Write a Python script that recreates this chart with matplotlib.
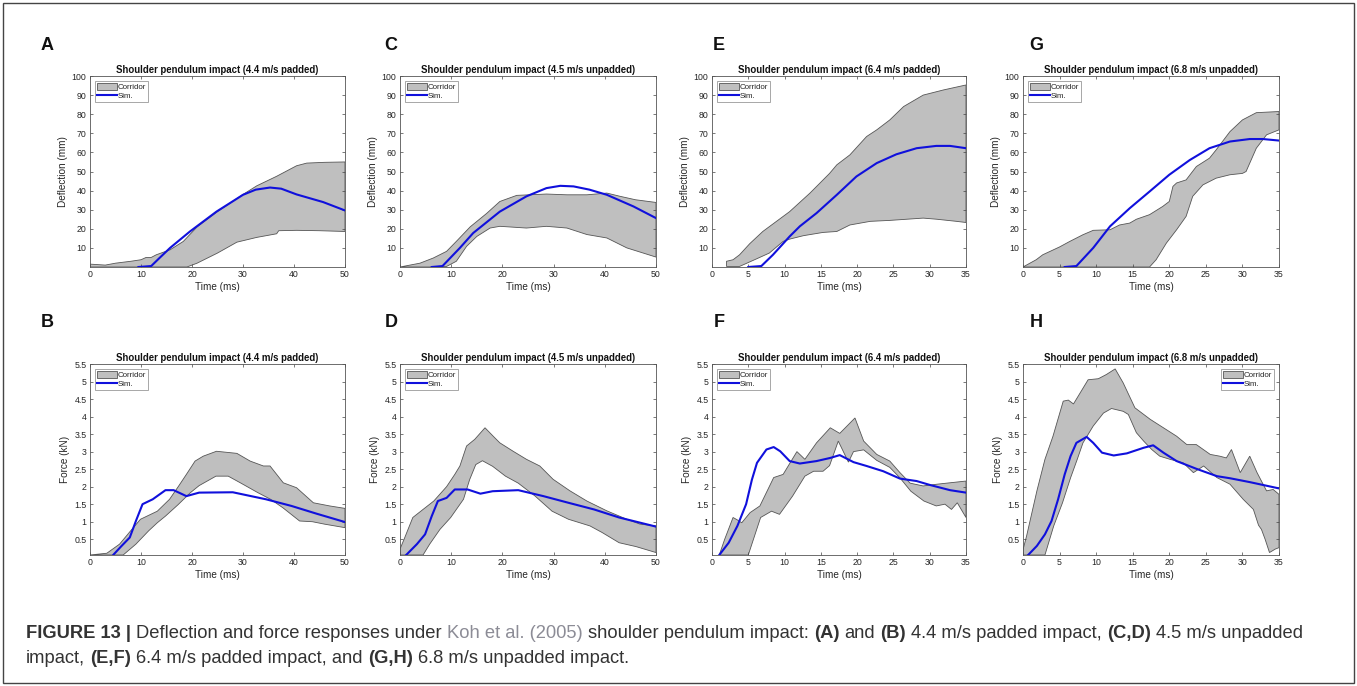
import numpy as np
import matplotlib
matplotlib.use("Agg")
import matplotlib.pyplot as plt
from matplotlib.patches import Rectangle
from matplotlib.ticker import FuncFormatter

plt.rcParams['font.family'] = ['Liberation Sans', 'DejaVu Sans']

# ── Data ──────────────────────────────────────────────────────────────────────
# A: deflection, 4.4 m/s padded
a_up_t = [0, 3, 5, 8, 10, 11, 12, 13, 15.7, 18.3, 21, 25, 30, 32.7, 36.6, 40.5, 42.5, 46, 50]
a_up = [1.5, 1, 2, 3, 3.8, 5, 5, 6.4, 9, 13.4, 21, 29, 38, 42.5, 47.5, 53, 54.4, 54.8, 55]
a_lo_t = [0, 19, 21, 25, 28.8, 32.7, 36.6, 37, 40.5, 45, 50]
a_lo = [0, 0, 2, 7.3, 13, 15.5, 17.4, 19, 19.2, 19, 18.6]
a_sim_t = [9.5, 12, 13.5, 15.7, 19.6, 24.8, 30, 32.5, 35.3, 37.5, 40.5, 45.7, 50]
a_sim = [0, 0.5, 4.4, 10, 18.6, 29, 37.8, 40.5, 41.6, 41, 38, 34, 29.6]

# C: deflection, 4.5 m/s unpadded
c_up_t = [0, 3.9, 6.5, 9.1, 11, 13.7, 16.9, 19.5, 22.8, 28.6, 32.6, 36.5, 40.4, 43, 46, 50]
c_up = [0, 2, 4.7, 8.2, 13.4, 21, 28, 34.3, 37.5, 38.2, 37.8, 37.8, 38.7, 37, 35.2, 33.8]
c_lo_t = [0, 6.5, 9.1, 11, 13, 15, 17.6, 19.5, 24.7, 28.6, 32.6, 36.5, 40.4, 44.3, 50]
c_lo = [0, 0, 0.3, 3, 10.8, 16, 20.4, 21.3, 20.4, 21.3, 20.4, 17, 15.2, 10, 5.2]
c_sim_t = [6.2, 8.3, 11.7, 14.3, 19.5, 24.7, 28.6, 31.3, 33.9, 37, 40.4, 45.6, 50]
c_sim = [0, 0.5, 10, 17.8, 29, 37, 41.3, 42.5, 42.2, 40.5, 37.8, 31.7, 25.6]

# E: deflection, 6.4 m/s padded
e_up_t = [2, 2.9, 3.8, 5.2, 7, 10.7, 13.5, 16.2, 17.2, 19, 21.3, 22.7, 24.5, 26.4, 29.1, 31.9, 35]
e_up = [3, 3.8, 6.4, 12.2, 18.6, 29, 38.7, 49, 53.5, 58.7, 68.3, 71.8, 77, 84, 90, 92.7, 95.3]
e_lo_t = [2, 3.8, 6.1, 7.9, 9.8, 10.7, 12.6, 15.3, 17.2, 19, 21.8, 24.5, 29.1, 31, 33.7, 35]
e_lo = [0.3, 0.3, 4.2, 7.3, 13.4, 14.6, 16.4, 18.1, 18.6, 22, 23.9, 24.4, 25.6, 25, 23.9, 23.3]
e_sim_t = [5, 6.8, 8.4, 10.7, 12.1, 14.4, 17.2, 19.9, 22.7, 25.4, 28.2, 30.9, 32.8, 35]
e_sim = [0, 0.5, 6.4, 16, 21.3, 28.2, 37.8, 47.4, 54.4, 59, 62.2, 63.4, 63.4, 62.2]

# G: deflection, 6.8 m/s unpadded
g_up_t = [0, 1.8, 2.7, 5, 6.4, 8.2, 9.6, 11.9, 13.2, 14.6, 15.5, 17.3, 19.1, 20, 20.5, 21,
          22.3, 23.7, 25.5, 26.4, 28.3, 30, 31.9, 35]
g_up = [0, 3.8, 6.4, 10.5, 13.4, 16.9, 19.2, 19.5, 22, 23, 25, 27.4, 31.7, 34.3, 42.2, 44,
        45.6, 52.6, 57, 61.3, 70.9, 77, 80.8, 81.4]
g_lo_t = [0, 17.3, 18.2, 19.6, 21, 22.3, 23.2, 24.6, 26.4, 28.3, 30, 30.5, 31.9, 33.3, 35]
g_lo = [0, 0, 3.8, 12.5, 19.5, 26.5, 37, 43, 46.5, 48.3, 49, 50, 62.2, 69.2, 71.8]
g_sim_t = [5.7, 7.3, 9.6, 11.9, 14.6, 17.3, 20, 22.8, 25.5, 28.3, 31, 32.8, 35]
g_sim = [0, 0.5, 10, 21.3, 30.8, 39.5, 48.3, 56, 62.2, 65.7, 67, 67, 66.2]

# B: force, 4.4 m/s padded
b_up_t = [0, 3.3, 5.8, 8.2, 9.9, 13.2, 15.6, 17.3, 18.9, 20.6, 22.2, 24.8, 28.8, 31.4, 34,
          35.3, 37.9, 40.5, 43.8, 47, 50]
b_up = [0.05, 0.1, 0.36, 0.78, 1.07, 1.3, 1.64, 2.0, 2.35, 2.73, 2.87, 3.01, 2.95, 2.73, 2.59,
        2.59, 2.11, 1.97, 1.54, 1.45, 1.38]
b_lo_t = [0, 6.5, 9, 11.5, 13.2, 14.8, 17.3, 19.7, 21.4, 24.7, 27.1, 29.6, 32.9, 35.4, 37.8,
          41.1, 43.6, 46, 50]
b_lo = [0.05, 0.05, 0.36, 0.74, 0.97, 1.16, 1.49, 1.83, 2.03, 2.3, 2.3, 2.1, 1.83, 1.64, 1.4,
        1.02, 1.0, 0.93, 0.83]
b_sim_t = [4.6, 6.2, 7.8, 9, 10.3, 12.3, 14.8, 16.4, 18.9, 21.4, 28, 34.5, 39.5, 44.4, 50]
b_sim = [0.06, 0.31, 0.55, 1.02, 1.5, 1.64, 1.9, 1.9, 1.73, 1.83, 1.84, 1.64, 1.45, 1.23, 0.99]

# D: force, 4.5 m/s unpadded
d_up_t = [0, 0.8, 2.5, 4.5, 6.6, 9.1, 10.7, 11.7, 13, 14.6, 16.6, 18.2, 19.5, 22.1, 24.7, 27.3,
          29.9, 33.2, 36.5, 40.4, 44.3, 46.9, 50]
d_up = [0.22, 0.5, 1.12, 1.35, 1.59, 2.0, 2.35, 2.59, 3.16, 3.35, 3.68, 3.44, 3.25, 3.01, 2.78,
        2.59, 2.21, 1.88, 1.59, 1.31, 1.07, 0.93, 0.88]
d_lo_t = [0, 4.5, 5.8, 7.8, 9.9, 12.4, 13.6, 14.8, 16.1, 18.1, 20.6, 23.1, 26.4, 29.7, 32.9,
          37.1, 39.5, 42.8, 46.1, 50]
d_lo = [0.05, 0.05, 0.36, 0.78, 1.12, 1.64, 2.2, 2.63, 2.74, 2.58, 2.3, 2.1, 1.73, 1.3, 1.07,
        0.88, 0.69, 0.4, 0.29, 0.12]
d_sim_t = [1.2, 3.3, 4.9, 6.2, 7.4, 9.1, 10.7, 13.2, 15.7, 18.1, 23.1, 28, 32.9, 37.9, 42.8, 50]
d_sim = [0.05, 0.36, 0.64, 1.16, 1.59, 1.68, 1.92, 1.92, 1.8, 1.87, 1.9, 1.73, 1.54, 1.35, 1.12, 0.86]

# F: force, 6.4 m/s padded
f_up_t = [1, 1.75, 2.9, 3.5, 4.1, 5.25, 6.6, 8.5, 9.8, 11.7, 12.8, 14.4, 16.3, 17.6, 19.7,
          20.9, 22.7, 24.5, 25.9, 27.3, 29.1, 31, 35]
f_up = [0.05, 0.5, 1.12, 1.05, 0.97, 1.26, 1.45, 2.26, 2.35, 3.0, 2.78, 3.25, 3.68, 3.52, 3.96,
        3.3, 2.92, 2.73, 2.4, 2.1, 2.02, 2.07, 2.16]
f_lo_t = [1, 5, 6.7, 8.2, 9.3, 11.1, 12.8, 14, 15.3, 16.2, 17.4, 18.8, 19.5, 20.9, 22.7, 24.5,
          25.9, 27.4, 29.2, 30.9, 32.1, 33, 33.8, 35]
f_lo = [0.05, 0.05, 1.12, 1.3, 1.21, 1.73, 2.3, 2.44, 2.44, 2.6, 3.3, 2.7, 3.0, 3.05, 2.75, 2.55,
        2.25, 1.87, 1.59, 1.45, 1.5, 1.35, 1.54, 1.12]
f_sim_t = [1, 2.3, 3.5, 4.7, 5.5, 6.2, 7.5, 8.5, 9.4, 10.7, 12.1, 14.4, 16.3, 17.6, 19.5, 21.3,
           23.6, 25.9, 28.2, 30, 32.8, 35]
f_sim = [0.05, 0.4, 0.88, 1.5, 2.2, 2.68, 3.06, 3.13, 3.01, 2.73, 2.66, 2.73, 2.82, 2.9, 2.7,
         2.59, 2.44, 2.23, 2.16, 2.05, 1.9, 1.83]

# H: force, 6.8 m/s unpadded
h_up_t = [0, 0.5, 1.9, 3, 4.1, 5.5, 6.2, 6.9, 7.8, 8.9, 10.3, 11.4, 12.6, 13.7, 15.3, 17.4,
          19.2, 21, 22.4, 23.7, 25.6, 26.9, 27.8, 28.5, 29.7, 31, 32, 33.3, 34.2, 35]
h_up = [0.2, 0.6, 1.88, 2.78, 3.44, 4.44, 4.47, 4.36, 4.67, 5.05, 5.08, 5.2, 5.36, 4.96, 4.25,
        3.92, 3.68, 3.44, 3.2, 3.2, 2.92, 2.87, 2.82, 3.06, 2.4, 2.87, 2.4, 1.88, 1.92, 1.78]
h_lo_t = [0, 3, 4.2, 5.4, 6.5, 7.4, 8.2, 9.6, 11, 12.1, 13.7, 14.4, 15.5, 16.5, 17.6, 18.7,
          20.1, 21.9, 23.3, 24.7, 26.5, 28.3, 30.1, 31.5, 32.2, 32.6, 33.1, 33.7, 34.5, 35]
h_lo = [0.05, 0.05, 0.88, 1.54, 2.25, 2.77, 3.25, 3.73, 4.1, 4.23, 4.15, 4.06, 3.54, 3.3, 3.06,
        2.87, 2.78, 2.68, 2.4, 2.59, 2.26, 2.07, 1.64, 1.35, 0.9, 0.78, 0.5, 0.12, 0.22, 0.26]
h_sim_t = [0.7, 1.9, 3, 3.9, 4.8, 5.7, 6.5, 7.3, 8.7, 9.6, 10.8, 12.4, 14.2, 16.5, 17.8, 19.2,
           21, 23.7, 26.5, 28.3, 31, 35]
h_sim = [0.05, 0.31, 0.64, 1.02, 1.64, 2.35, 2.87, 3.25, 3.42, 3.25, 2.97, 2.89, 2.95, 3.11,
         3.18, 2.97, 2.73, 2.51, 2.3, 2.24, 2.13, 1.95]

titles = ["Shoulder pendulum impact (4.4 m/s padded)",
          "Shoulder pendulum impact (4.5 m/s unpadded)",
          "Shoulder pendulum impact (6.4 m/s padded)",
          "Shoulder pendulum impact (6.8 m/s unpadded)"]
top_letters = ["A", "C", "E", "G"]
bot_letters = ["B", "D", "F", "H"]
x_max = [50, 50, 35, 35]
x_step = [10, 10, 5, 5]

defl = [(a_up_t, a_up, a_lo_t, a_lo, a_sim_t, a_sim),
        (c_up_t, c_up, c_lo_t, c_lo, c_sim_t, c_sim),
        (e_up_t, e_up, e_lo_t, e_lo, e_sim_t, e_sim),
        (g_up_t, g_up, g_lo_t, g_lo, g_sim_t, g_sim)]
force = [(b_up_t, b_up, b_lo_t, b_lo, b_sim_t, b_sim),
         (d_up_t, d_up, d_lo_t, d_lo, d_sim_t, d_sim),
         (f_up_t, f_up, f_lo_t, f_lo, f_sim_t, f_sim),
         (h_up_t, h_up, h_lo_t, h_lo, h_sim_t, h_sim)]

# ── Layout ────────────────────────────────────────────────────────────────────
W, H = 1357, 686
fig = plt.figure(figsize=(W / 100, H / 100), dpi=100)
lefts = [90, 400, 712, 1023]
rights = [345, 656, 966, 1279]
rows = [(76, 267), (364, 555)]

GRAY = '#bfbfbf'
EDGE = '#555555'
BLUE = '#1010dc'
TXT = '#262626'
fmt = FuncFormatter(lambda v, p: f"{v:g}")


def panel(ax, data, title, xmax, xstep, ylim, yticks, ylabel, leg_loc):
    ut, u, lt, l, st, s = (np.array(v, float) for v in data)
    ax.fill(np.concatenate([ut, lt[::-1]]), np.concatenate([u, l[::-1]]),
            facecolor=GRAY, edgecolor=EDGE, linewidth=0.6, label="Corridor")
    ax.plot(st, s, color=BLUE, lw=1.5, label="Sim.")
    ax.set_xlim(0, xmax)
    ax.set_ylim(*ylim)
    ax.set_xticks(np.arange(0, xmax + 0.1, xstep))
    ax.set_yticks(yticks)
    ax.yaxis.set_major_formatter(fmt)
    ax.tick_params(direction='in', length=2.5, width=0.5, top=True, right=True,
                   labelsize=6.3, pad=2.5, color='#444444', labelcolor=TXT)
    for sp in ax.spines.values():
        sp.set_color('#555555')
        sp.set_linewidth(0.6)
    ax.set_title(title, fontsize=6.9, fontweight='bold', color='#111111', pad=2.5)
    ax.set_xlabel("Time (ms)", fontsize=7.2, color=TXT, labelpad=1.5)
    ax.set_ylabel(ylabel, fontsize=7.2, color=TXT, labelpad=3)
    leg = ax.legend(loc=leg_loc, fontsize=5.7, frameon=True, fancybox=False,
                    handlelength=2.6, handleheight=1.0, handletextpad=0.1,
                    borderpad=0.25, labelspacing=0.15, borderaxespad=0.6,
                    framealpha=1)
    leg.get_frame().set_edgecolor('#999999')
    leg.get_frame().set_linewidth(0.6)
    for t in leg.get_texts():
        t.set_color(TXT)


for i in range(4):
    l, r = lefts[i], rights[i]
    for row, (top, bot) in enumerate(rows):
        ax = fig.add_axes([l / W, 1 - bot / H, (r - l) / W, (bot - top) / H])
        if row == 0:
            panel(ax, defl[i], titles[i], x_max[i], x_step[i], (0, 100),
                  np.arange(10, 101, 10), "Deflection (mm)", 'upper left')
        else:
            panel(ax, force[i], titles[i], x_max[i], x_step[i], (0.05, 5.5),
                  np.arange(0.5, 5.51, 0.5), "Force (kN)",
                  'upper right' if i == 3 else 'upper left')

label_x = [47, 391, 719, 1036]
for i in range(4):
    fig.text(label_x[i] / W, 1 - 46 / H, top_letters[i], fontsize=13, fontweight='bold',
             ha='center', va='center', color='#111111')
    fig.text(label_x[i] / W, 1 - 322 / H, bot_letters[i], fontsize=13, fontweight='bold',
             ha='center', va='center', color='#111111')

# figure frame
fig.add_artist(Rectangle((3 / W, 3 / H), 1 - 6 / W, 1 - 6 / H, transform=fig.transFigure,
                         fill=False, edgecolor='#444444', linewidth=1.0))

# ── Caption (mixed styles placed piece by piece) ─────────────────────────────
CAP = '#333333'
LINK = '#8c8c96'
line1 = [("FIGURE 13 |", 'bold', CAP), ("Deflection and force responses under", 'normal', CAP),
         ("Koh et al. (2005)", 'normal', LINK), ("shoulder pendulum impact:", 'normal', CAP),
         ("(A)", 'bold', CAP), ("and", 'normal', CAP), ("(B)", 'bold', CAP),
         ("4.4 m/s padded impact,", 'normal', CAP), ("(C,D)", 'bold', CAP),
         ("4.5 m/s unpadded", 'normal', CAP)]
line2 = [("impact,", 'normal', CAP), ("(E,F)", 'bold', CAP),
         ("6.4 m/s padded impact, and", 'normal', CAP), ("(G,H)", 'bold', CAP),
         ("6.8 m/s unpadded impact.", 'normal', CAP)]

renderer = fig.canvas.get_renderer()
CAP_FS = 13.2


def width_px(s, weight):
    t = fig.text(0, 0, s, fontsize=CAP_FS, fontweight=weight)
    w = t.get_window_extent(renderer).width
    t.remove()
    return w


space = width_px("x x", 'normal') - width_px("xx", 'normal')


def rich_line(parts, x0, y0):
    x = x0
    for s, weight, color in parts:
        t = fig.text(x / W, 1 - y0 / H, s, fontsize=CAP_FS, fontweight=weight, color=color,
                     va='baseline', ha='left')
        x += t.get_window_extent(renderer).width + space


rich_line(line1, 26, 638)
rich_line(line2, 26, 663)

fig.savefig("out.png", dpi=100)
